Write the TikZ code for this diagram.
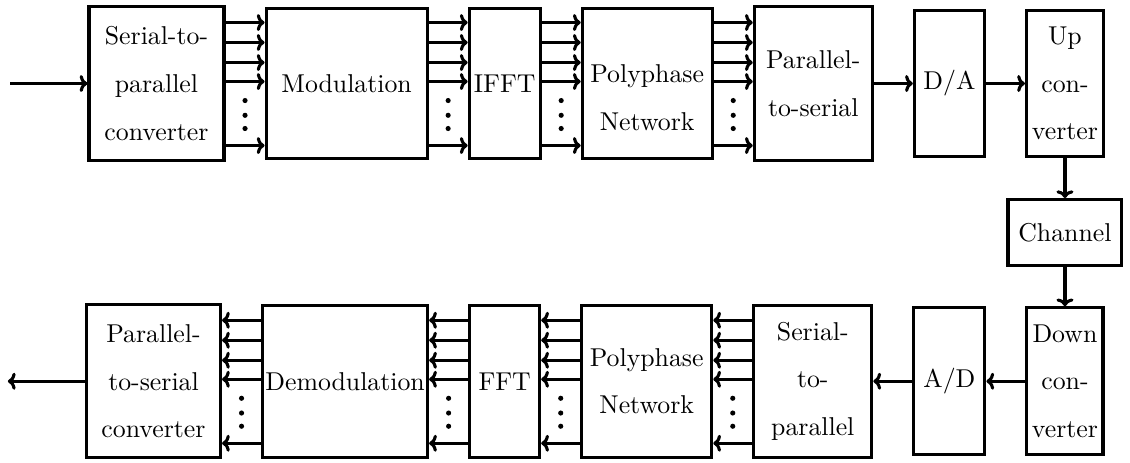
\documentclass[tikz,border=0pt]{standalone}
\usepackage{tikz}
\usetikzlibrary{arrows.meta, positioning}

\begin{document}
\begin{tikzpicture}[
  node distance=0.531cm and 0.531cm,
  block/.style={rectangle, draw, very thick, align=center, inner sep=1pt,
                font=\fontsize{10}{18.5}\selectfont},
  toprow/.style={block, minimum height=2.044cm},
  botrow/.style={block, minimum height=2.071cm},
  arrow/.style={-{To[length=3pt, width=6.6pt]}, very thick},
  dot/.style={fill=black},
]
  \useasboundingbox (-2.132,-5.157) rectangle (13.264,1.138);

  \node[block, minimum width=1.84cm, minimum height=2.098cm] (sp) {Serial-to-\\parallel\\converter};
  \node[toprow, minimum width=2.194cm, right=of sp] (mod) {Modulation};
  \node[toprow, minimum width=0.967cm, right=of mod] (ifft) {IFFT};
  \node[toprow, minimum width=1.771cm, right=of ifft, text height=36.5pt] (poly) {Polyphase\\Network};
  \node[block, minimum width=1.608cm, minimum height=2.098cm, right=of poly] (ps) {Parallel-\\to-serial};
  \node[block, minimum width=0.954cm, minimum height=1.989cm, right=of ps] (da) {D/A};
  \node[block, minimum width=1.049cm, minimum height=1.989cm, right=of da] (up) {Up\\con-\\verter};

  \node[block, minimum width=1.553cm, minimum height=0.9cm, below=0.545cm of up] (chan) {Channel};

  \node[block, minimum width=1.036cm, minimum height=2.003cm, below=of chan] (down) {Down\\con-\\verter};
  \node[block, minimum width=0.967cm, minimum height=2.003cm, left=of down] (ad) {A/D};
  \node[botrow, minimum width=1.608cm, left=of ad] (sp2) {Serial-\\to-\\parallel};
  \node[botrow, minimum width=1.771cm, left=of sp2] (poly2) {Polyphase\\Network};
  \node[botrow, minimum width=0.954cm, left=of poly2] (fft) {FFT};
  \node[botrow, minimum width=2.248cm, left=of fft] (demod) {Demodulation};
  \node[block, minimum width=1.826cm, minimum height=2.085cm, left=of demod] (ps2) {Parallel-\\to-serial\\converter};

  \coordinate[left=1.05cm of sp] (in);
  \coordinate[left=1.05cm of ps2] (out);

  \draw[arrow] (in) -- (sp);
  \draw[arrow] (ps) -- (da);
  \draw[arrow] (da) -- (up);
  \draw[arrow] (up) -- (chan);
  \draw[arrow] (chan) -- (down);
  \draw[arrow] (down) -- (ad);
  \draw[arrow] (ad) -- (sp2);
  \draw[arrow] (ps2) -- (out);

  \foreach \a/\b in {sp/mod, mod/ifft, ifft/poly, poly/ps} {
    \foreach \dy in {0.831, 0.559, 0.286, 0.027, -0.845}
      \draw[arrow] ([yshift=\dy cm]\a.east) -- ([yshift=\dy cm]\b.west);
    \path (\a.east) -- (\b.west) coordinate[midway] (m);
    \foreach \dy in {-0.232, -0.433, -0.613}
      \fill[dot] ([yshift=\dy cm]m) circle (0.035cm);
  }

  \foreach \a/\b in {ps2/demod, demod/fft, fft/poly2, poly2/sp2} {
    \foreach \dy in {0.831, 0.559, 0.286, 0.027, -0.845}
      \draw[arrow] ([yshift=\dy cm]\b.west) -- ([yshift=\dy cm]\a.east);
    \path (\a.east) -- (\b.west) coordinate[midway] (m);
    \foreach \dy in {-0.232, -0.433, -0.613}
      \fill[dot] ([yshift=\dy cm]m) circle (0.035cm);
  }
\end{tikzpicture}
\end{document}
